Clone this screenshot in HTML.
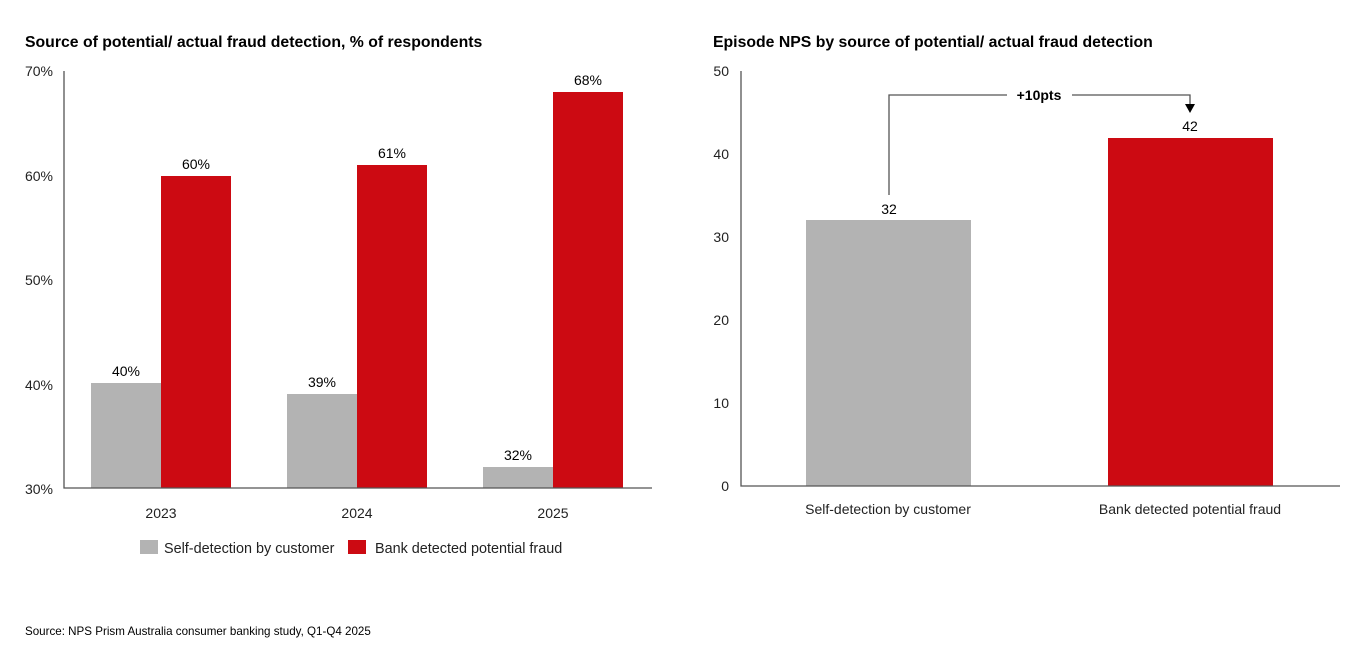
<!DOCTYPE html>
<html><head><style>body{margin:0;background:#fff}svg{display:block;font-family:"Liberation Sans",Arial,sans-serif}</style></head>
<body>
<svg width="1354" height="646" viewBox="0 0 1354 646">
<text x="25" y="47" font-size="15.8" font-weight="bold" fill="#000">Source of potential/ actual fraud detection, % of respondents</text>
<text x="713" y="47" font-size="15.8" font-weight="bold" fill="#000">Episode NPS by source of potential/ actual fraud detection</text>
<g font-size="14" fill="#222" text-anchor="end">
<text x="53" y="76">70%</text><text x="53" y="181">60%</text><text x="53" y="285">50%</text><text x="53" y="390">40%</text><text x="53" y="494">30%</text>
<text x="729" y="76">50</text><text x="729" y="159">40</text><text x="729" y="242">30</text><text x="729" y="325">20</text><text x="729" y="408">10</text><text x="729" y="491">0</text>
</g>
<g fill="#b3b3b3"><rect x="91" y="383" width="70" height="105"/><rect x="287" y="394" width="70" height="94"/><rect x="483" y="467" width="70" height="21"/><rect x="806" y="220" width="165" height="266"/></g>
<g fill="#cc0a12"><rect x="161" y="176" width="70" height="312"/><rect x="357" y="165" width="70" height="323"/><rect x="553" y="92" width="70" height="396"/><rect x="1108" y="138" width="165" height="348"/></g>
<g stroke="#555" stroke-width="1.3" fill="none">
<path d="M64 71V488H652"/><path d="M741 71V486H1340"/>
<path d="M889 195V95H1007M1072 95H1190V106"/>
</g>
<path d="M1185 104L1195 104L1190 113Z" fill="#000"/>
<g font-size="14" fill="#000" text-anchor="middle">
<text x="126" y="376">40%</text><text x="196" y="169">60%</text>
<text x="322" y="387">39%</text><text x="392" y="158">61%</text>
<text x="518" y="460">32%</text><text x="588" y="85">68%</text>
<text x="889" y="214">32</text><text x="1190" y="131">42</text>
<text x="1039" y="100" font-weight="bold">+10pts</text>
<text x="161" y="518" fill="#222">2023</text><text x="357" y="518" fill="#222">2024</text><text x="553" y="518" fill="#222">2025</text>
<text x="888" y="514" fill="#222">Self-detection by customer</text><text x="1190" y="514" fill="#222">Bank detected potential fraud</text>
</g>
<rect x="140" y="540" width="18" height="14" fill="#b3b3b3"/>
<text x="164" y="553" font-size="14.4" fill="#222">Self-detection by customer</text>
<rect x="348" y="540" width="18" height="14" fill="#cc0a12"/>
<text x="375" y="553" font-size="14.4" fill="#222">Bank detected potential fraud</text>
<text x="25" y="635" font-size="11.6" fill="#000">Source: NPS Prism Australia consumer banking study, Q1-Q4 2025</text>
</svg>
</body></html>
